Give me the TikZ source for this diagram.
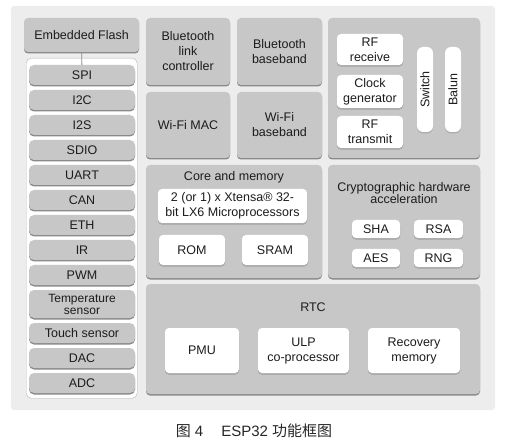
\documentclass[tikz,border=0pt]{standalone}
\usepackage{fontspec}
\setmainfont{Liberation Sans}
\newfontfamily\cjk{Noto Sans CJK SC}
\usetikzlibrary{positioning, shadows}
\definecolor{pagegray}{HTML}{EDEDED}
\definecolor{blockgray}{HTML}{C7C7C7}
\definecolor{edgegray}{HTML}{8A8A8A}
\definecolor{linegray}{HTML}{B5B5B5}
\definecolor{inkgray}{HTML}{1C1C1C}

\begin{document}
\begin{tikzpicture}[x=1pt, y=-1pt, font=\fontsize{12.5}{15}\selectfont, text=inkgray]
\tikzstyle{block} = [rectangle, rounded corners=4pt, fill=blockgray, anchor=north west, inner sep=0pt, outer sep=0pt, align=center, drop shadow={shadow xshift=0pt, shadow yshift=-1.5pt, fill=edgegray, opacity=1}]
\tikzstyle{whitebox} = [block, fill=white, drop shadow={shadow xshift=0pt, shadow yshift=-1.5pt, fill=edgegray!70, opacity=1}]
\tikzstyle{periph} = [rectangle, rounded corners=5pt, fill=blockgray, minimum width=106pt, minimum height=20pt, inner sep=0pt, outer sep=0pt, align=center, drop shadow={shadow xshift=0pt, shadow yshift=-1.5pt, fill=edgegray, opacity=1}]
\tikzstyle{bar} = [rectangle, rounded corners=6pt, fill=white, minimum width=85pt, minimum height=16pt, inner sep=0pt, rotate=90, drop shadow={shadow xshift=0pt, shadow yshift=-1.5pt, fill=edgegray!70, opacity=1}]
\tikzstyle{title} = [inner sep=0pt, align=center]

\useasboundingbox (0,0) rectangle (511,446);
\fill [pagegray, rounded corners=3pt] (11,6) rectangle (495,410);

% left column
\node (flash) [block, minimum width=115pt, minimum height=34pt] at (24,18) {Embedded Flash};
\node (bus) [rectangle, rounded corners=5pt, fill=white, draw=linegray, anchor=north west, minimum width=111pt, minimum height=340pt] at (26,58) {};

\node (spi) [periph] at (82,75) {SPI};
\node (i2c) [periph, below=5pt of spi] {I2C};
\node (i2s) [periph, below=5pt of i2c] {I2S};
\node (sdio) [periph, below=5pt of i2s] {SDIO};
\node (uart) [periph, below=5pt of sdio] {UART};
\node (can) [periph, below=5pt of uart] {CAN};
\node (eth) [periph, below=5pt of can] {ETH};
\node (ir) [periph, below=5pt of eth] {IR};
\node (pwm) [periph, below=5pt of ir] {PWM};
\node (temp) [periph, below=5pt of pwm, minimum height=28pt, font=\fontsize{12}{12}\selectfont] {Temperature\\sensor};
\node (touch) [periph, below=5pt of temp] {Touch sensor};
\node (dac) [periph, below=5pt of touch] {DAC};
\node (adc) [periph, below=5pt of dac] {ADC};

\draw [edgegray, thick] (flash) -- (spi);

% radio
\node (btlink) [block, minimum width=84pt, minimum height=67pt] at (146,18) {Bluetooth\\link\\controller};
\node (btbase) [block, minimum width=85pt, minimum height=67pt] at (237,18) {Bluetooth\\baseband};
\node (wifimac) [block, minimum width=84pt, minimum height=66pt] at (146,92) {Wi-Fi MAC};
\node (wifibase) [block, minimum width=85pt, minimum height=66pt] at (237,92) {Wi-Fi\\baseband};

\node (rf) [block, minimum width=152pt, minimum height=140pt] at (328,18) {};
\node (rfrx) [whitebox, minimum width=66pt, minimum height=31pt] at (337,34) {RF\\receive};
\node (clock) [whitebox, minimum width=66pt, minimum height=33pt] at (337,75) {Clock\\generator};
\node (rftx) [whitebox, minimum width=66pt, minimum height=32pt] at (337,116) {RF\\transmit};
\node (switch) [bar] at (425,89.5) {Switch};
\node (balun) [bar] at (453,89.5) {Balun};

% core
\node (core) [block, minimum width=176pt, minimum height=113pt] at (146,165) {};
\node (coretitle) [title] at (234,177) {Core and memory};
\node (cpu) [whitebox, minimum width=149pt, minimum height=34pt] at (158,189) {2 (or 1) x Xtensa\textregistered{} 32-\\bit LX6 Microprocessors};
\node (rom) [whitebox, minimum width=66pt, minimum height=30pt] at (159,235) {ROM};
\node (sram) [whitebox, minimum width=66pt, minimum height=30pt] at (242,235) {SRAM};

% crypto
\node (crypto) [block, minimum width=152pt, minimum height=113pt] at (328,165) {};
\node (cryptotitle) [title, font=\fontsize{12.5}{12.5}\selectfont] at (404,193) {Cryptographic hardware\\acceleration};
\node (sha) [whitebox, minimum width=48pt, minimum height=18pt] at (352,220) {SHA};
\node (rsa) [whitebox, minimum width=49pt, minimum height=18pt] at (414,220) {RSA};
\node (aes) [whitebox, minimum width=48pt, minimum height=18pt] at (352,249) {AES};
\node (rng) [whitebox, minimum width=49pt, minimum height=18pt] at (414,249) {RNG};

% rtc
\node (rtc) [block, minimum width=334pt, minimum height=110pt] at (146,284) {};
\node (rtctitle) [title] at (313,307) {RTC};
\node (pmu) [whitebox, minimum width=74pt, minimum height=45pt] at (165,328) {PMU};
\node (ulp) [whitebox, minimum width=91pt, minimum height=45pt] at (258,328) {ULP\\co-processor};
\node (recov) [whitebox, minimum width=92pt, minimum height=45pt] at (368,328) {Recovery\\memory};

\node (caption) [title, font=\fontsize{15}{18}\selectfont, text=black!85] at (254,431) {{\cjk 图} 4\hspace{18pt}ESP32 {\cjk 功能框图}};

\end{tikzpicture}
\end{document}
